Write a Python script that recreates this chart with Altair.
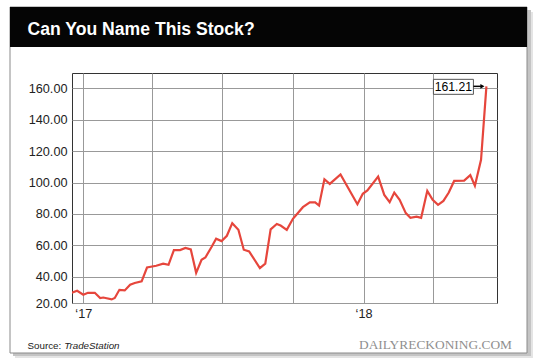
import altair as alt
import pandas as pd

# ---- data ----
dates = [
    "2016-12-17", "2016-12-24", "2017-01-01", "2017-01-07", "2017-01-16", "2017-01-23", "2017-01-27",
    "2017-02-07", "2017-02-11", "2017-02-17", "2017-02-24", "2017-03-03", "2017-03-09", "2017-03-18",
    "2017-03-25", "2017-04-06", "2017-04-15", "2017-04-22", "2017-04-29", "2017-05-07", "2017-05-14",
    "2017-05-21", "2017-05-28", "2017-06-04", "2017-06-09", "2017-06-17", "2017-06-23", "2017-06-30",
    "2017-07-07", "2017-07-14", "2017-07-22", "2017-07-29", "2017-08-05", "2017-08-19", "2017-08-26",
    "2017-09-02", "2017-09-10", "2017-09-15", "2017-09-23", "2017-10-01", "2017-10-14", "2017-10-23",
    "2017-10-30", "2017-11-04", "2017-11-11", "2017-11-18", "2017-12-02", "2017-12-24", "2017-12-31",
    "2018-01-06", "2018-01-20", "2018-01-28", "2018-02-04", "2018-02-10", "2018-02-17", "2018-02-25",
    "2018-03-03", "2018-03-11", "2018-03-17", "2018-03-25", "2018-04-01", "2018-04-08", "2018-04-15",
    "2018-04-22", "2018-04-29", "2018-05-12", "2018-05-20", "2018-05-26", "2018-06-03", "2018-06-10",
]
prices = [
    29.8, 31.1, 28.6, 29.8, 29.8, 26.5, 26.8, 25.6, 26.5, 31.7,
    31.3, 34.9, 36.0, 37.1, 45.9, 47.0, 48.3, 47.6, 57.0, 57.0,
    58.3, 57.4, 42.5, 50.8, 52.3, 58.9, 64.2, 62.7, 66.1, 74.1,
    69.9, 57.2, 56.1, 45.5, 48.3, 70.2, 73.6, 72.6, 69.9, 76.9,
    84.3, 87.3, 87.3, 85.3, 102.1, 99.1, 105.1, 86.2, 92.8, 95.0,
    103.8, 92.1, 87.5, 93.6, 89.0, 80.5, 77.5, 78.3, 77.5, 94.7,
    89.0, 85.8, 88.3, 93.6, 101.0, 101.2, 104.7, 97.9, 114.4, 161.21,
]
y_bottom, y_top = 23.3, 169.7
y_ticks = [40, 60, 80, 100, 120, 140, 160]
x_ticks = [(2017, 1), (2017, 4), (2017, 7), (2017, 10), (2018, 1), (2018, 4)]
last_label = "161.21"
title_text = "Can You Name This Stock?"
source_label = "Source:"
source_name = "TradeStation"
brand = "DAILYRECKONING.COM"

FONT = "Liberation Sans"
W, H = 425, 230

df = pd.DataFrame({"date": dates, "price": prices})
last = df.tail(1).assign(label=last_label)
dummy = pd.DataFrame({"k": [0]})

x_enc = alt.X(
    "date:T",
    scale=alt.Scale(
        type="utc",
        domain=[
            alt.DateTime(year=2016, month=12, date=17, hours=7, utc=True),
            alt.DateTime(year=2018, month=6, date=23, hours=19, utc=True),
        ],
    ),
    axis=alt.Axis(
        values=[alt.DateTime(year=y, month=m, date=1, utc=True) for y, m in x_ticks],
        labelExpr="utcmonth(datum.value) == 0 ? '\u2018' + utcFormat(datum.value, '%y') : ''",
        title=None, ticks=False, domain=False, grid=True, labelOverlap=False, tickCount=30,
        labelPadding=4, labelFontSize=12.7, labelColor="#222", labelFont=FONT,
    ),
)
y_enc = alt.Y(
    "price:Q",
    scale=alt.Scale(domain=[y_bottom, y_top], nice=False, zero=False),
    axis=alt.Axis(
        values=[y_bottom] + y_ticks,
        labelExpr="datum.value < 30 ? '20.00' : format(datum.value, '.2f')",
        title=None, ticks=False, domain=False, grid=True, labelOverlap=False, tickCount=30,
        labelPadding=5, labelFontSize=12.7, labelColor="#222", labelFont=FONT,
    ),
)

line = alt.Chart(df).mark_line(color="#e6463c", strokeWidth=2.2, clip=True).encode(x=x_enc, y=y_enc)

# annotation of last value
box = alt.Chart(last).mark_rect(
    fill="white", stroke="#555", strokeWidth=1,
    xOffset=-53, x2Offset=-13, yOffset=-7, y2Offset=8,
).encode(x="date:T", x2="date:T", y="price:Q", y2="price:Q")
box_text = alt.Chart(last).mark_text(
    font=FONT, fontSize=12.2, color="#000", align="center", baseline="middle", xOffset=-33, yOffset=1,
).encode(x="date:T", y="price:Q", text="label:N")
arrow = alt.Chart(last).mark_rule(color="#000", strokeWidth=1.5, xOffset=-13, x2Offset=-5).encode(
    x="date:T", x2="date:T", y="price:Q"
)
arrow_head = alt.Chart(last).mark_point(
    shape="triangle-right", filled=True, color="#000", opacity=1, size=22, xOffset=-4
).encode(x="date:T", y="price:Q")

# decoration: panel, shadow, header, footer
def rect(x1, x2, y1, y2, **kw):
    return alt.Chart(dummy).mark_rect(**kw).encode(
        x=alt.value(x1), x2=alt.value(x2), y=alt.value(y1), y2=alt.value(y2)
    )

shadow = [
    rect(455, 461, -61, 285, color="#e4e4e4"),
    rect(-57, 461, 280, 285, color="#e4e4e4"),
    rect(455, 459, -63, 283, color="#c4c4c4"),
    rect(-59, 459, 280, 283, color="#c4c4c4"),
]
panel = rect(-62, 455, -66, 280, fillOpacity=0, stroke="#8a8a8a", strokeWidth=1)
header = rect(-62, 455, -66, -26, color="#050505")

def text(t, x, y, **kw):
    return alt.Chart(dummy).mark_text(baseline="alphabetic", **kw).encode(
        x=alt.value(x), y=alt.value(y), text=alt.value(t)
    )

title = text(title_text, -44.5, -38.5, font=FONT, fontSize=17.6, fontWeight="bold", color="#fff", align="left")
src1 = text(source_label, -44.5, 275.5, font=FONT, fontSize=9.8, color="#222", align="left")
src2 = text(source_name, -7.8, 275.5, font=FONT, fontSize=9.8, fontStyle="italic", color="#222", align="left")
brand_t = text(brand, 440, 275.5, font="Liberation Serif", fontSize=13.4, color="#8f8f8f", align="right")

chart = alt.layer(
    *shadow, panel, header, title, src1, src2, brand_t,
    line, box, arrow, arrow_head, box_text,
).properties(
    width=W, height=H,
    autosize=alt.AutoSizeParams(type="none"),
    padding={"left": 72, "top": 73, "right": 43, "bottom": 61},
    background="white",
).configure_view(
    stroke="#333", strokeWidth=1
).configure_axis(
    gridColor="#999999", gridWidth=1
)

chart.save("out.html", embed_options={"renderer": "svg", "actions": False})
